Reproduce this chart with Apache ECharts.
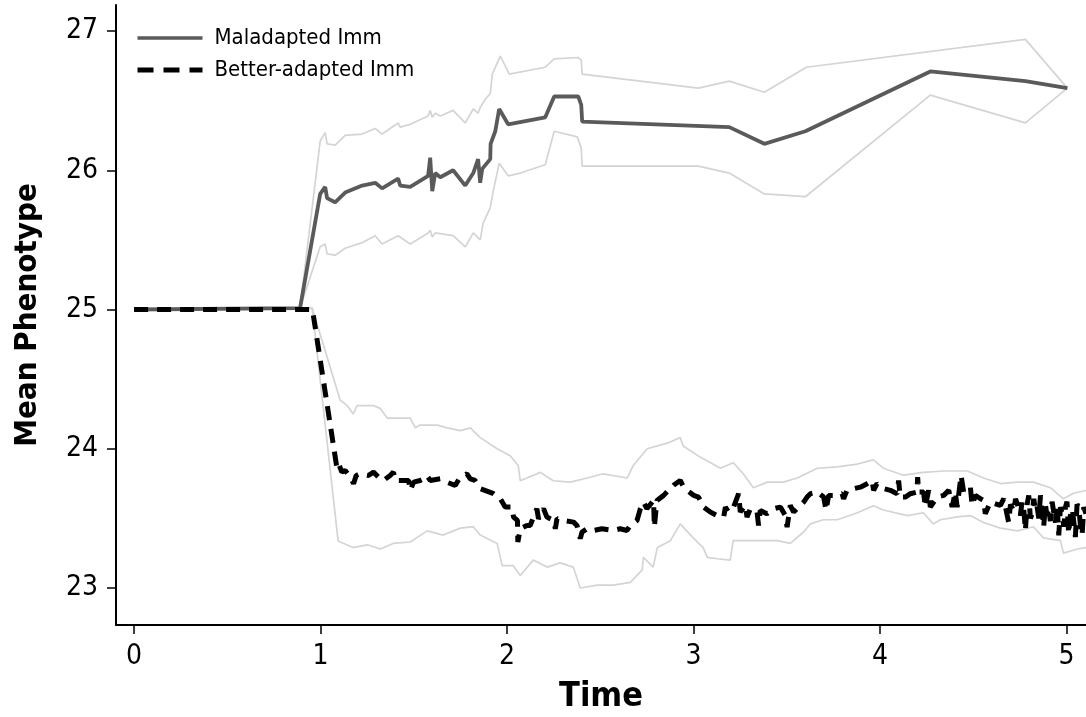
<!DOCTYPE html>
<html>
<head>
<meta charset="utf-8">
<style>
  html, body { margin: 0; padding: 0; background: #ffffff; }
  #chart { width: 1086px; height: 717px; }
</style>
<script src="https://cdn.jsdelivr.net/npm/echarts@6/dist/echarts.min.js"></script>
</head>
<body>
<div id="chart"></div>
<script>
// Tick positions on each axis
const timeTicks = [0, 1, 2, 3, 4, 5];
const phenotypeTicks = [23, 24, 25, 26, 27];

// Legend names
const seriesNames = ['Maladapted Imm', 'Better-adapted Imm'];

// Maladapted immigrants: mean phenotype and its envelope, as [time, value]
const maladaptedMean = [
  [0, 25.0], [0.89, 25.01], [0.998, 25.83], [1.025, 25.88], [1.035, 25.80], [1.078, 25.77],
  [1.132, 25.84], [1.223, 25.89], [1.293, 25.91], [1.330, 25.87], [1.416, 25.94], [1.427, 25.89],
  [1.481, 25.88], [1.577, 25.96], [1.588, 26.09], [1.599, 25.85], [1.615, 25.98], [1.642, 25.95],
  [1.711, 26.00], [1.776, 25.89], [1.819, 25.98], [1.845, 26.08], [1.856, 25.91], [1.867, 26.01],
  [1.910, 26.08], [1.912, 26.19], [1.937, 26.28], [1.958, 26.44], [2.006, 26.33], [2.205, 26.38],
  [2.253, 26.53], [2.382, 26.53], [2.398, 26.47], [2.403, 26.35], [3.192, 26.31], [3.380, 26.19],
  [3.600, 26.28], [4.270, 26.71], [4.780, 26.64], [5.005, 26.59]
];
const maladaptedUpper = [
  [0, 25.0], [0.89, 25.01], [0.998, 26.21], [1.025, 26.27], [1.035, 26.19], [1.078, 26.18],
  [1.132, 26.25], [1.223, 26.26], [1.293, 26.30], [1.330, 26.26], [1.416, 26.34], [1.427, 26.31],
  [1.481, 26.33], [1.577, 26.39], [1.588, 26.43], [1.599, 26.38], [1.615, 26.41], [1.642, 26.39],
  [1.711, 26.43], [1.776, 26.34], [1.819, 26.44], [1.845, 26.41], [1.856, 26.45], [1.883, 26.51],
  [1.910, 26.55], [1.921, 26.69], [1.964, 26.82], [2.012, 26.69], [2.205, 26.74], [2.253, 26.80],
  [2.382, 26.81], [2.398, 26.79], [2.403, 26.69], [3.026, 26.59], [3.192, 26.64], [3.380, 26.56],
  [3.605, 26.74], [4.780, 26.94], [5.005, 26.59]
];
const maladaptedLower = [
  [0, 25.0], [0.89, 25.01], [0.998, 25.45], [1.025, 25.47], [1.035, 25.40], [1.078, 25.39],
  [1.132, 25.44], [1.223, 25.48], [1.293, 25.53], [1.330, 25.47], [1.416, 25.53], [1.481, 25.47],
  [1.577, 25.55], [1.588, 25.57], [1.599, 25.52], [1.615, 25.55], [1.711, 25.53], [1.776, 25.45],
  [1.819, 25.55], [1.856, 25.50], [1.872, 25.62], [1.910, 25.73], [1.926, 25.85], [1.958, 26.05],
  [2.006, 25.96], [2.071, 25.98], [2.205, 26.04], [2.253, 26.28], [2.377, 26.24], [2.398, 26.16],
  [2.403, 26.03], [3.026, 26.03], [3.192, 25.98], [3.380, 25.83], [3.600, 25.81], [4.270, 26.54],
  [4.780, 26.34], [5.005, 26.59]
];

// Better-adapted immigrants: mean phenotype and its envelope, as [time, value]
const betterMean = [
  [0, 25.0], [0.955, 25.0], [0.96, 24.97], [1.087, 23.868], [1.096, 23.897], [1.114, 23.832],
  [1.132, 23.844], [1.159, 23.796], [1.177, 23.749], [1.191, 23.808], [1.212, 23.820], [1.257, 23.808],
  [1.284, 23.832], [1.320, 23.784], [1.338, 23.772], [1.373, 23.808], [1.391, 23.832], [1.400, 23.772],
  [1.427, 23.772], [1.472, 23.772], [1.481, 23.701], [1.499, 23.760], [1.534, 23.772], [1.552, 23.784],
  [1.570, 23.808], [1.588, 23.772], [1.642, 23.784], [1.677, 23.760], [1.722, 23.737], [1.749, 23.796],
  [1.785, 23.820], [1.803, 23.784], [1.829, 23.772], [1.856, 23.713], [1.865, 23.701], [1.928, 23.677],
  [1.964, 23.641], [1.990, 23.581], [2.026, 23.581], [2.035, 23.509], [2.056, 23.485], [2.058, 23.330],
  [2.071, 23.425], [2.107, 23.449], [2.124, 23.449], [2.160, 23.569], [2.169, 23.497], [2.196, 23.569],
  [2.214, 23.509], [2.250, 23.485], [2.259, 23.425], [2.268, 23.497], [2.303, 23.485], [2.357, 23.473],
  [2.375, 23.449], [2.393, 23.354], [2.402, 23.401], [2.429, 23.425], [2.464, 23.413], [2.509, 23.425],
  [2.571, 23.413], [2.607, 23.425], [2.643, 23.413], [2.661, 23.449], [2.697, 23.485], [2.715, 23.569],
  [2.732, 23.617], [2.750, 23.569], [2.786, 23.629], [2.790, 23.437], [2.804, 23.629], [2.840, 23.665],
  [2.866, 23.701], [2.893, 23.737], [2.929, 23.772], [2.947, 23.724], [2.965, 23.701], [3.001, 23.665],
  [3.027, 23.653], [3.054, 23.581], [3.090, 23.545], [3.126, 23.521], [3.162, 23.509], [3.171, 23.581],
  [3.188, 23.545], [3.215, 23.581], [3.242, 23.677], [3.251, 23.545], [3.278, 23.593], [3.287, 23.509],
  [3.305, 23.569], [3.341, 23.545], [3.349, 23.449], [3.358, 23.557], [3.394, 23.533], [3.430, 23.569],
  [3.466, 23.581], [3.492, 23.521], [3.502, 23.437], [3.519, 23.593], [3.537, 23.545], [3.564, 23.581],
  [3.591, 23.617], [3.609, 23.653], [3.627, 23.677], [3.662, 23.689], [3.698, 23.653], [3.711, 23.557],
  [3.725, 23.665], [3.752, 23.665], [3.797, 23.677], [3.805, 23.641], [3.823, 23.701], [3.859, 23.713],
  [3.895, 23.724], [3.931, 23.749], [3.958, 23.772], [3.966, 23.701], [3.984, 23.749], [4.020, 23.713],
  [4.056, 23.701], [4.092, 23.677], [4.100, 23.772], [4.109, 23.653], [4.136, 23.653], [4.163, 23.677],
  [4.199, 23.689], [4.202, 23.796], [4.208, 23.689], [4.234, 23.689], [4.243, 23.581], [4.261, 23.701],
  [4.270, 23.581], [4.306, 23.653], [4.342, 23.665], [4.369, 23.701], [4.387, 23.581], [4.404, 23.689],
  [4.414, 23.581], [4.435, 23.808], [4.449, 23.689], [4.485, 23.724], [4.494, 23.593], [4.512, 23.665],
  [4.539, 23.641], [4.556, 23.629], [4.565, 23.533], [4.592, 23.617], [4.646, 23.593], [4.664, 23.641],
  [4.690, 23.473], [4.700, 23.600], [4.709, 23.593], [4.718, 23.550], [4.727, 23.640], [4.736, 23.605],
  [4.745, 23.560], [4.753, 23.521], [4.762, 23.620], [4.771, 23.569], [4.780, 23.413], [4.789, 23.600],
  [4.798, 23.665], [4.807, 23.500], [4.816, 23.533], [4.825, 23.640], [4.834, 23.550], [4.843, 23.581],
  [4.852, 23.500], [4.861, 23.665], [4.870, 23.550], [4.878, 23.437], [4.887, 23.600], [4.896, 23.520],
  [4.905, 23.569], [4.914, 23.480], [4.923, 23.620], [4.932, 23.545], [4.941, 23.470], [4.950, 23.600],
  [4.959, 23.378], [4.968, 23.580], [4.977, 23.533], [4.986, 23.440], [4.995, 23.581], [5.003, 23.620],
  [5.012, 23.389], [5.021, 23.520], [5.031, 23.569], [5.040, 23.470], [5.048, 23.366], [5.057, 23.600],
  [5.066, 23.581], [5.075, 23.450], [5.084, 23.378], [5.093, 23.580], [5.105, 23.533]
];
const betterUpper = [
  [0, 25.0], [0.955, 25.01], [1.089, 24.42], [1.105, 24.35], [1.143, 24.31], [1.175, 24.25],
  [1.196, 24.31], [1.282, 24.31], [1.320, 24.29], [1.357, 24.22], [1.389, 24.22], [1.481, 24.22],
  [1.508, 24.15], [1.534, 24.17], [1.626, 24.17], [1.679, 24.15], [1.749, 24.13], [1.803, 24.15],
  [1.856, 24.08], [1.947, 24.00], [2.017, 23.95], [2.060, 23.88], [2.071, 23.77], [2.178, 23.83],
  [2.248, 23.77], [2.339, 23.76], [2.430, 23.79], [2.516, 23.82], [2.645, 23.79], [2.677, 23.88],
  [2.752, 24.00], [2.859, 24.04], [2.929, 24.08], [2.945, 24.02], [3.036, 23.94], [3.144, 23.86],
  [3.213, 23.90], [3.267, 23.82], [3.321, 23.72], [3.396, 23.76], [3.482, 23.76], [3.557, 23.79],
  [3.664, 23.86], [3.771, 23.87], [3.879, 23.89], [3.965, 23.92], [4.018, 23.86], [4.126, 23.81],
  [4.233, 23.83], [4.340, 23.84], [4.469, 23.84], [4.555, 23.79], [4.646, 23.75], [4.737, 23.76],
  [4.823, 23.76], [4.914, 23.72], [4.984, 23.64], [5.038, 23.68], [5.105, 23.70]
];
const betterLower = [
  [0, 25.0], [0.955, 25.01], [1.094, 23.34], [1.105, 23.33], [1.175, 23.29], [1.250, 23.31],
  [1.320, 23.28], [1.389, 23.32], [1.481, 23.33], [1.572, 23.41], [1.658, 23.38], [1.749, 23.43],
  [1.819, 23.44], [1.856, 23.38], [1.947, 23.32], [1.974, 23.16], [2.033, 23.16], [2.071, 23.09],
  [2.141, 23.20], [2.216, 23.15], [2.285, 23.18], [2.355, 23.15], [2.393, 23.00], [2.484, 23.02],
  [2.570, 23.02], [2.661, 23.04], [2.725, 23.13], [2.731, 23.22], [2.784, 23.15], [2.806, 23.29],
  [2.876, 23.34], [2.929, 23.46], [2.999, 23.36], [3.052, 23.29], [3.074, 23.22], [3.128, 23.21],
  [3.197, 23.20], [3.213, 23.34], [3.342, 23.34], [3.450, 23.34], [3.519, 23.32], [3.589, 23.40],
  [3.627, 23.46], [3.696, 23.49], [3.771, 23.49], [3.879, 23.54], [3.965, 23.59], [4.018, 23.56],
  [4.147, 23.52], [4.233, 23.54], [4.286, 23.46], [4.324, 23.49], [4.415, 23.51], [4.485, 23.52],
  [4.555, 23.47], [4.646, 23.43], [4.737, 23.41], [4.823, 23.44], [4.877, 23.36], [4.968, 23.34],
  [4.984, 23.25], [5.059, 23.28], [5.105, 23.29]
];

const FONT = "'DejaVu Sans Condensed', 'DejaVu Sans', sans-serif";
const BAND_COLOR = '#d4d4d4';
const MAL_COLOR = '#5a5a5a';
const BETTER_DASH = [14, 9];

function bandSeries(data) {
  return {
    type: 'line', data: data, symbol: 'none', silent: true, z: 1,
    lineStyle: { color: BAND_COLOR, width: 1.7 }
  };
}

const chart = echarts.init(document.getElementById('chart'), null, { renderer: 'canvas' });
chart.setOption({
  animation: false,
  backgroundColor: '#ffffff',
  grid: { left: 116, right: 0, top: 5, bottom: 92, containLabel: false, outerBoundsMode: 'none' },
  legend: {
    orient: 'vertical', left: 135, top: 27, padding: 0,
    itemWidth: 65, itemHeight: 14, itemGap: 10,
    data: [
      { name: seriesNames[0], itemStyle: { opacity: 0 }, lineStyle: { color: MAL_COLOR, width: 3.5 } },
      { name: seriesNames[1], itemStyle: { opacity: 0 }, lineStyle: { color: '#000', width: 5, type: [16, 10] } }
    ],
    textStyle: { fontFamily: FONT, fontSize: 22, color: '#000', lineHeight: 22, padding: [0, 0, 0, 7] }
  },
  xAxis: {
    type: 'value', min: -0.097, max: 5.105,
    name: 'Time', nameLocation: 'middle', nameGap: 55,
    nameTextStyle: { fontFamily: FONT, fontSize: 34, fontWeight: 'bold', color: '#000' },
    axisLine: { onZero: false, lineStyle: { color: '#000', width: 2 } },
    axisTick: { show: true, length: 9, customValues: timeTicks, lineStyle: { color: '#000', width: 1.5 } },
    axisLabel: { customValues: timeTicks, margin: 18, fontFamily: FONT, fontSize: 28, color: '#000' },
    splitLine: { show: false }
  },
  yAxis: {
    type: 'value', min: 22.734, max: 27.187,
    name: 'Mean Phenotype', nameLocation: 'middle', nameGap: 73,
    nameTextStyle: { fontFamily: FONT, fontSize: 31, fontWeight: 'bold', color: '#000' },
    axisLine: { onZero: false, lineStyle: { color: '#000', width: 2 } },
    axisTick: { show: true, length: 9, customValues: phenotypeTicks, lineStyle: { color: '#000', width: 1.5 } },
    axisLabel: { customValues: phenotypeTicks, margin: 18, fontFamily: FONT, fontSize: 28, color: '#000' },
    splitLine: { show: false }
  },
  series: [
    bandSeries(maladaptedUpper),
    bandSeries(maladaptedLower),
    bandSeries(betterUpper),
    bandSeries(betterLower),
    {
      name: seriesNames[0], type: 'line', data: maladaptedMean, symbol: 'none', z: 3,
      itemStyle: { color: MAL_COLOR },
      lineStyle: { color: MAL_COLOR, width: 3.8 }
    },
    {
      name: seriesNames[1], type: 'line', data: betterMean, symbol: 'none', z: 4,
      itemStyle: { color: '#000' },
      lineStyle: { color: '#000', width: 5, type: BETTER_DASH }
    }
  ]
});
</script>
</body>
</html>
